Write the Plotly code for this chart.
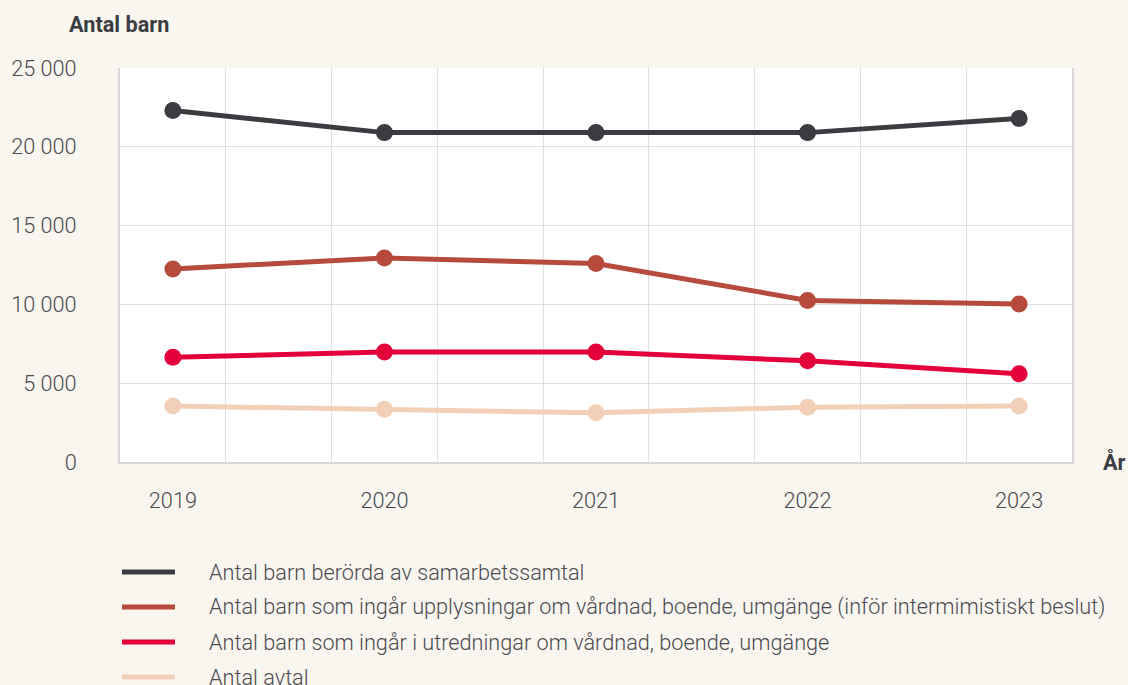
import plotly.graph_objects as go

years = [2019, 2020, 2021, 2022, 2023]
series_names = [
    "Antal barn berörda av samarbetssamtal",
    "Antal barn som ingår upplysningar om vårdnad, boende, umgänge (inför intermimistiskt beslut)",
    "Antal barn som ingår i utredningar om vårdnad, boende, umgänge",
    "Antal avtal",
]
samarbetssamtal = [22300, 20900, 20900, 20900, 21800]
upplysningar = [12250, 12950, 12600, 10250, 10030]
utredningar = [6650, 6980, 6980, 6420, 5600]
avtal = [3550, 3350, 3120, 3480, 3550]
series_values = [samarbetssamtal, upplysningar, utredningar, avtal]
colors = ["#3b3c42", "#b54a3d", "#e3003a", "#f2d0b8"]
y_ticks = [0, 5000, 10000, 15000, 20000, 25000]
y_tick_labels = ["0", "5 000", "10 000", "15 000", "20 000", "25 000"]

W, H = 1128, 685
ml, mr, mt, mb = 120, 56, 68, 223
plot_h = H - mt - mb
plot_w = W - ml - mr

FONT = "Roboto"
TXT = "#4a4a50"
FS = 21.7
fig = go.Figure()
for name, vals, col in zip(series_names, series_values, colors):
    fig.add_trace(go.Scatter(
        x=years, y=vals, name=name, mode="lines+markers",
        line=dict(color=col, width=5),
        marker=dict(color=col, size=17),
        showlegend=False,
    ))

# manual legend
shapes = []
annotations = []
for i, (name, col) in enumerate(zip(series_names, colors)):
    ypx = 572 + 35 * i
    yp = (H - mb - ypx) / plot_h
    shapes.append(dict(type="line", xref="paper", yref="paper",
                       x0=(122 - ml) / plot_w, x1=(175 - ml) / plot_w, y0=yp, y1=yp,
                       line=dict(color=col, width=5)))
    annotations.append(dict(xref="paper", yref="paper", x=(207 - ml) / plot_w, y=yp,
                            text=name, showarrow=False, xanchor="left", yanchor="middle",
                            font=dict(family=FONT, size=FS, color=TXT, weight=300)))

annotations.append(dict(xref="paper", yref="paper", x=(67 - ml) / plot_w, y=(H - mb - 25) / plot_h,
                        text="<b>Antal barn</b>", showarrow=False, xanchor="left", yanchor="middle",
                        font=dict(family=FONT, size=FS, color="#3b3c42")))
annotations.append(dict(xref="paper", yref="paper", x=(1101 - ml) / plot_w, y=0,
                        text="<b>År</b>", showarrow=False, xanchor="left", yanchor="middle",
                        font=dict(family=FONT, size=FS, color="#3b3c42")))

fig.update_layout(
    width=W, height=H,
    margin=dict(l=ml, r=mr, t=mt, b=mb, autoexpand=False),
    paper_bgcolor="#f9f6ef",
    plot_bgcolor="#ffffff",
    shapes=shapes,
    annotations=annotations,
    showlegend=False,
    xaxis=dict(
        range=[2018.75, 2023.25], tickvals=years, ticktext=[str(y) for y in years],
        showgrid=False, zeroline=False, automargin=False,
        showline=True, linecolor="#d6d6db", linewidth=2,
        ticks="", ticklabelstandoff=18,
        tickfont=dict(family=FONT, size=FS, color=TXT, weight=300),
        minor=dict(tick0=2019.25, dtick=0.5, showgrid=True, gridcolor="#e0e0e3", gridwidth=1),
    ),
    yaxis=dict(
        range=[0, 25000], tickvals=y_ticks, ticktext=y_tick_labels,
        showgrid=True, gridcolor="#e0e0e3", gridwidth=1, zeroline=False, automargin=False,
        showline=True, linecolor="#d6d6db", linewidth=2, mirror=True,
        ticks="", ticklabelstandoff=37,
        tickfont=dict(family=FONT, size=FS, color=TXT, weight=300),
    ),
)

fig.write_html("out.html", config={"displayModeBar": False},
               post_script="document.body.style.margin='0';document.body.style.overflow='hidden';")
